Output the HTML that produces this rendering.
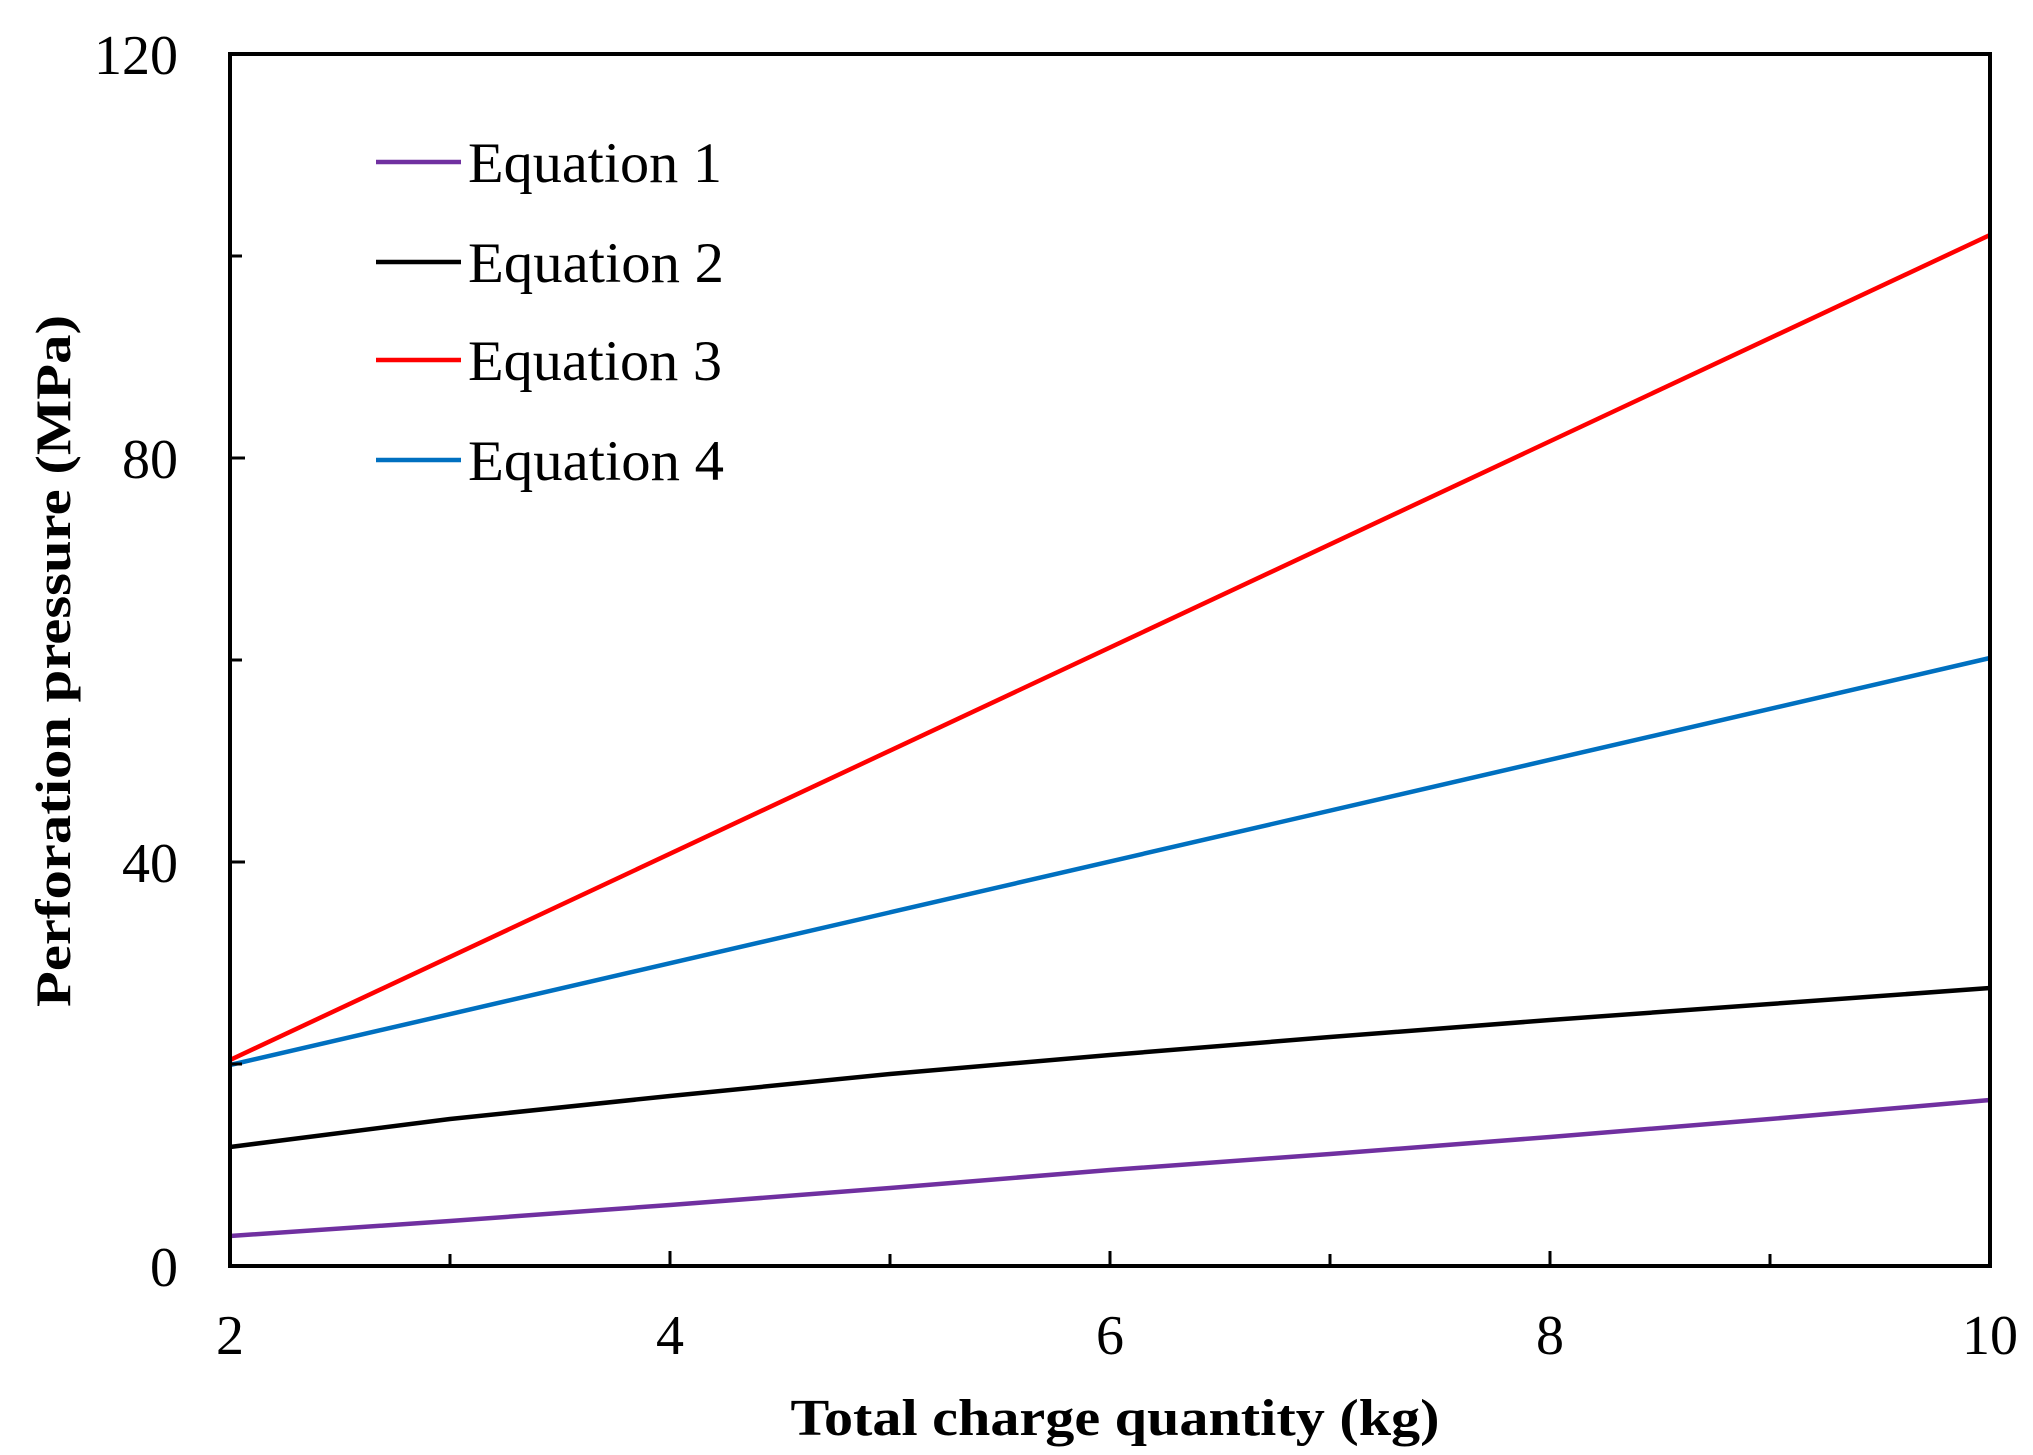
<!DOCTYPE html>
<html><head><meta charset="utf-8"><style>
html,body{margin:0;padding:0;background:#fff;}
svg{display:block;}
text{font-family:"Liberation Serif","Times New Roman",serif;fill:#000;}
</style></head><body>
<svg width="2033" height="1455" viewBox="0 0 2033 1455" xmlns="http://www.w3.org/2000/svg">
<rect width="2033" height="1455" fill="#fff"/>
<!-- series -->
<g fill="none" stroke-width="4.5" stroke-linejoin="round">
<polyline stroke="#7030a0" points="230,1236 450,1221 670,1205 890,1188 1110,1170 1330,1154 1550,1137 1770,1119 1990,1100"/>
<polyline stroke="#000" points="230,1147 450,1119 670,1096 890,1074 1110,1055 1330,1037 1550,1020 1770,1004 1990,988"/>
<polyline stroke="#ff0000" points="230,1060 1990,235"/>
<polyline stroke="#0070c0" points="230,1065 1990,658"/>
</g>
<!-- frame -->
<rect x="230" y="54" width="1760" height="1212" fill="none" stroke="#000" stroke-width="4"/>
<!-- ticks -->
<g stroke="#000" stroke-width="3">
<line x1="450" y1="1266" x2="450" y2="1254"/>
<line x1="670" y1="1266" x2="670" y2="1251"/>
<line x1="890" y1="1266" x2="890" y2="1254"/>
<line x1="1110" y1="1266" x2="1110" y2="1251"/>
<line x1="1330" y1="1266" x2="1330" y2="1254"/>
<line x1="1550" y1="1266" x2="1550" y2="1251"/>
<line x1="1770" y1="1266" x2="1770" y2="1254"/>
<line x1="230" y1="1064" x2="242" y2="1064"/>
<line x1="230" y1="862" x2="245" y2="862"/>
<line x1="230" y1="660" x2="242" y2="660"/>
<line x1="230" y1="458" x2="245" y2="458"/>
<line x1="230" y1="256" x2="242" y2="256"/>
</g>
<!-- y labels -->
<g font-size="56" text-anchor="end">
<text x="178" y="74">120</text>
<text x="178" y="478">80</text>
<text x="178" y="882">40</text>
<text x="178" y="1286">0</text>
</g>
<!-- x labels -->
<g font-size="56" text-anchor="middle">
<text x="230" y="1354">2</text>
<text x="670" y="1354">4</text>
<text x="1110" y="1354">6</text>
<text x="1550" y="1354">8</text>
<text x="1990" y="1354">10</text>
</g>
<text x="1115" y="1435" font-size="52" font-weight="bold" text-anchor="middle" textLength="649" lengthAdjust="spacingAndGlyphs">Total charge quantity (kg)</text>
<text transform="translate(70,661) rotate(-90)" font-size="50" font-weight="bold" text-anchor="middle" textLength="692" lengthAdjust="spacingAndGlyphs">Perforation pressure (MPa)</text>
<!-- legend -->
<g stroke-width="4.5">
<line x1="376" y1="162" x2="461" y2="162" stroke="#7030a0"/>
<line x1="376" y1="262" x2="461" y2="262" stroke="#000"/>
<line x1="376" y1="360" x2="461" y2="360" stroke="#ff0000"/>
<line x1="376" y1="460" x2="461" y2="460" stroke="#0070c0"/>
</g>
<g font-size="57">
<text x="468" y="182" textLength="254" lengthAdjust="spacingAndGlyphs">Equation 1</text>
<text x="468" y="282" textLength="256" lengthAdjust="spacingAndGlyphs">Equation 2</text>
<text x="468" y="380" textLength="254" lengthAdjust="spacingAndGlyphs">Equation 3</text>
<text x="468" y="480" textLength="256" lengthAdjust="spacingAndGlyphs">Equation 4</text>
</g>
</svg>
</body></html>
